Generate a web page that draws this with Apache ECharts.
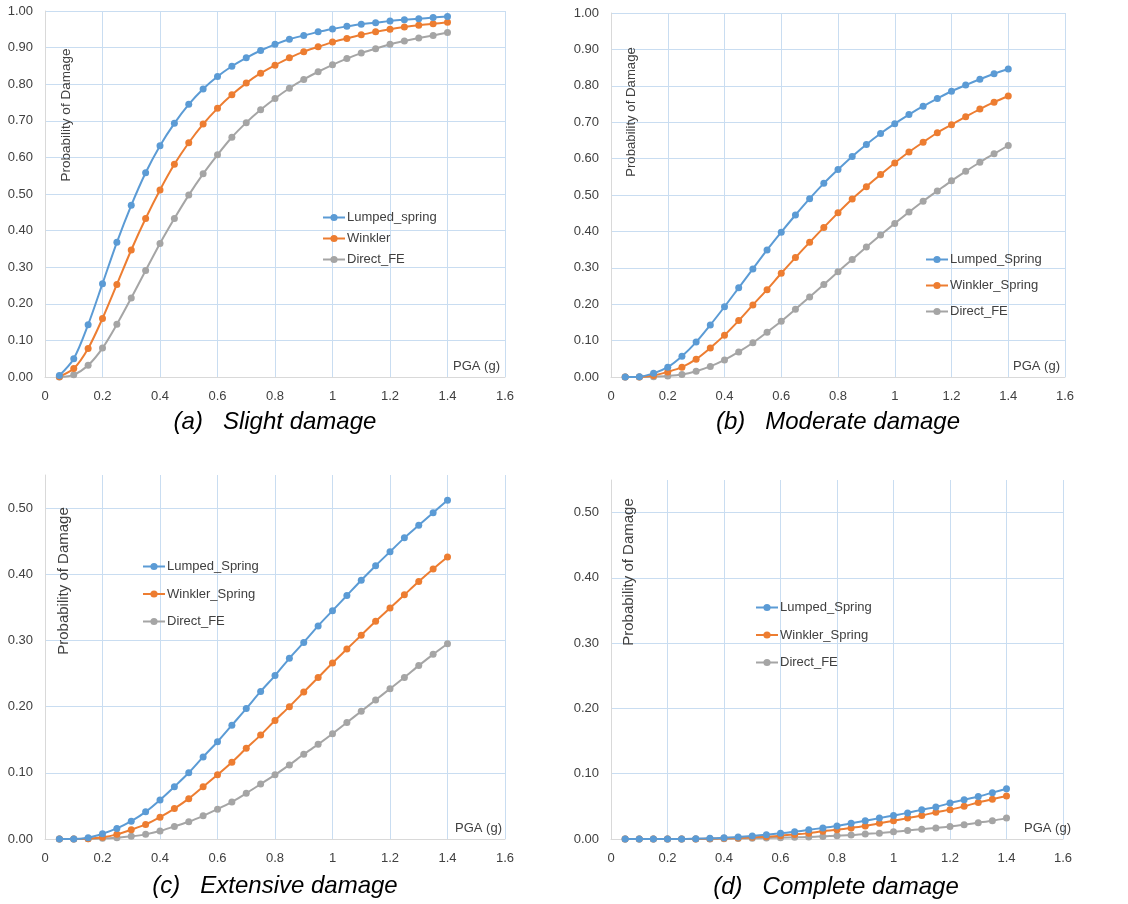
<!DOCTYPE html>
<html>
<head>
<meta charset="utf-8">
<script src="https://cdn.jsdelivr.net/npm/echarts@6/dist/echarts.min.js"></script>
<style>
html,body{margin:0;padding:0;background:#fff;}
#c{width:1128px;height:904px;}
</style>
</head>
<body>
<div id="c"></div>
<script>
// ---- Data ----
const pga = [0.05,0.10,0.15,0.20,0.25,0.30,0.35,0.40,0.45,0.50,0.55,0.60,0.65,0.70,0.75,0.80,0.85,0.90,0.95,1.00,1.05,1.10,1.15,1.20,1.25,1.30,1.35,1.40];

const xTicks = [0,0.2,0.4,0.6,0.8,1,1.2,1.4,1.6];

// (a) Slight damage
const slightLumped  = [0.004,0.050,0.143,0.255,0.368,0.469,0.558,0.632,0.693,0.745,0.787,0.821,0.849,0.872,0.892,0.909,0.923,0.933,0.943,0.951,0.958,0.964,0.968,0.973,0.976,0.979,0.982,0.985];
const slightWinkler = [0.001,0.023,0.078,0.160,0.253,0.347,0.433,0.511,0.581,0.640,0.691,0.734,0.771,0.803,0.830,0.852,0.872,0.889,0.902,0.915,0.925,0.935,0.943,0.950,0.956,0.961,0.965,0.969];
const slightDirect  = [0.000,0.006,0.032,0.079,0.144,0.216,0.291,0.365,0.433,0.497,0.555,0.607,0.655,0.695,0.730,0.761,0.789,0.813,0.834,0.853,0.870,0.885,0.897,0.909,0.918,0.926,0.933,0.941];

// (b) Moderate damage
const modLumped  = [0.000,0.001,0.010,0.027,0.057,0.096,0.143,0.193,0.245,0.297,0.349,0.398,0.445,0.490,0.532,0.570,0.606,0.639,0.669,0.696,0.721,0.744,0.765,0.785,0.802,0.818,0.833,0.846];
const modWinkler = [0.000,0.000,0.004,0.014,0.027,0.049,0.080,0.115,0.155,0.198,0.240,0.285,0.328,0.370,0.411,0.451,0.489,0.523,0.556,0.588,0.618,0.645,0.671,0.693,0.715,0.736,0.755,0.772];
const modDirect  = [0.000,0.000,0.001,0.003,0.007,0.016,0.029,0.047,0.069,0.094,0.123,0.153,0.186,0.220,0.254,0.289,0.323,0.357,0.390,0.422,0.453,0.483,0.511,0.539,0.565,0.590,0.613,0.636];

// (c) Extensive damage
const extLumped  = [0.000,0.000,0.002,0.008,0.016,0.027,0.041,0.059,0.079,0.100,0.124,0.147,0.172,0.197,0.223,0.247,0.273,0.297,0.322,0.345,0.368,0.391,0.413,0.434,0.455,0.474,0.493,0.512];
const extWinkler = [0.000,0.000,0.0005,0.0025,0.007,0.014,0.022,0.033,0.046,0.061,0.079,0.097,0.116,0.137,0.157,0.179,0.200,0.222,0.244,0.266,0.287,0.308,0.329,0.349,0.369,0.389,0.408,0.426];
const extDirect  = [0.000,0.000,0.0002,0.001,0.002,0.004,0.007,0.012,0.019,0.026,0.035,0.045,0.056,0.069,0.083,0.097,0.112,0.128,0.143,0.159,0.176,0.193,0.210,0.227,0.244,0.262,0.279,0.295];

// (d) Complete damage
const compLumped  = [0,0,0,0,0,0.0005,0.001,0.002,0.003,0.0046,0.0066,0.0087,0.011,0.014,0.017,0.020,0.024,0.028,0.032,0.036,0.040,0.045,0.049,0.055,0.060,0.065,0.071,0.077];
const compWinkler = [0,0,0,0,0,0,0.0005,0.001,0.0016,0.0025,0.0036,0.005,0.007,0.009,0.012,0.014,0.017,0.020,0.024,0.028,0.032,0.036,0.041,0.045,0.050,0.056,0.061,0.066];
const compDirect  = [0,0,0,0,0,0,0,0.0004,0.0007,0.001,0.0015,0.002,0.0025,0.003,0.004,0.005,0.006,0.0077,0.009,0.011,0.013,0.015,0.017,0.019,0.022,0.025,0.028,0.032];

const panelTitles = ['(a)   Slight damage','(b)   Moderate damage','(c)   Extensive damage','(d)   Complete damage'];
const namesA = ['Lumped_spring','Winkler','Direct_FE'];
const namesB = ['Lumped_Spring','Winkler_Spring','Direct_FE'];
const yTitle = 'Probability of Damage';
const xTitle = 'PGA (g)';

// ---- Styling / layout ----
const colors = ['#5B9BD5','#ED7D31','#A5A5A5'];
const FONT = 'Liberation Sans, Arial, sans-serif';
const grids = [
  {left:45, top:11, width:460, height:366},
  {left:611, top:13, width:454, height:364},
  {left:45, top:475, width:460, height:364},
  {left:611, top:480, width:452, height:359}
];
const yMax = [1, 1, 0.55, 0.55];
const xNameGap = [-5, -5, -3, 8];

const panels = [
  {names:namesA, data:[slightLumped, slightWinkler, slightDirect]},
  {names:namesB, data:[modLumped, modWinkler, modDirect]},
  {names:namesB, data:[extLumped, extWinkler, extDirect]},
  {names:namesB, data:[compLumped, compWinkler, compDirect]}
];

const xAxes = grids.map((g,i)=>({
  type:'value', gridIndex:i, min:0, max:1.6, interval:0.2,
  name:xTitle, nameLocation:'end', nameGap:xNameGap[i],
  nameTextStyle:{align:'right', verticalAlign:'bottom', padding:[0,0,4,0], fontSize:13, color:'#404040', fontFamily:FONT},
  axisLine:{show:true, lineStyle:{color:'#D9D9D9', width:1}},
  axisTick:{show:false},
  axisLabel:{fontSize:13, color:'#404040', fontFamily:FONT, margin:13,
    formatter:v=>String(+v.toFixed(1))},
  splitLine:{show:true, lineStyle:{color:'#C9DDF1', width:1}}
}));

const yAxes = grids.map((g,i)=>({
  type:'value', gridIndex:i, min:0, max:yMax[i], interval:0.1,
  axisLine:{show:true, lineStyle:{color:'#D9D9D9', width:1}},
  axisTick:{show:false},
  axisLabel:{fontSize:13, color:'#404040', fontFamily:FONT, margin:12,
    formatter:v=>(Math.round(v*100)%10===0 ? v.toFixed(2) : '')},
  splitLine:{show:true, showMaxLine: yMax[i]===1, lineStyle:{color:'#C9DDF1', width:1}}
}));

const series = [];
panels.forEach((p,i)=>{
  p.data.forEach((vals,k)=>{
    series.push({
      type:'line', name:p.names[k], xAxisIndex:i, yAxisIndex:i,
      data: pga.map((x,j)=>[x, vals[j]]),
      smooth:0.3, symbol:'circle', symbolSize:7, showSymbol:true,
      itemStyle:{color:colors[k]},
      lineStyle:{color:colors[k], width:2},
      z: 10-k
    });
  });
});

const legendPos = [
  {left:322, top:211, itemGap:8},
  {left:925, top:253, itemGap:13},
  {left:142, top:560, itemGap:14.5},
  {left:755, top:601, itemGap:14.5}
];
const legends = legendPos.map((l,i)=>({
  orient:'vertical', left:l.left, top:l.top, itemGap:l.itemGap, padding:0,
  itemWidth:22, itemHeight:9,
  data: panels[i].names,
  textStyle:{fontSize:13, color:'#404040', fontFamily:FONT, padding:[0,0,0,-3]},
  selectedMode:false
}));

const titlePos = [
  {left:275, top:410}, {left:838, top:410}, {left:275, top:874}, {left:836, top:875}
];
const titles = titlePos.map((t,i)=>({
  text:panelTitles[i], left:t.left, top:t.top, textAlign:'center', padding:0,
  textStyle:{fontSize:24, fontStyle:'italic', fontWeight:'normal', color:'#000', fontFamily:FONT}
}));

const yTitlePos = [
  {x:66, y:115, fs:13.5}, {x:631, y:112, fs:13.2}, {x:64, y:581, fs:15}, {x:629, y:572, fs:15}
];
const graphics = yTitlePos.map(p=>({
  type:'text', x:p.x, y:p.y, rotation:Math.PI/2,
  style:{text:yTitle, font: p.fs+'px '+FONT, fill:'#404040', textAlign:'center', textVerticalAlign:'middle'},
  z:5
}));

const chart = echarts.init(document.getElementById('c'), null, {renderer:'canvas'});
chart.setOption({
  animation:false,
  backgroundColor:'#fff',
  title:titles,
  grid:grids.map(g=>Object.assign({containLabel:false}, g)),
  xAxis:xAxes,
  yAxis:yAxes,
  legend:legends,
  series:series,
  graphic:graphics
});
</script>
</body>
</html>
